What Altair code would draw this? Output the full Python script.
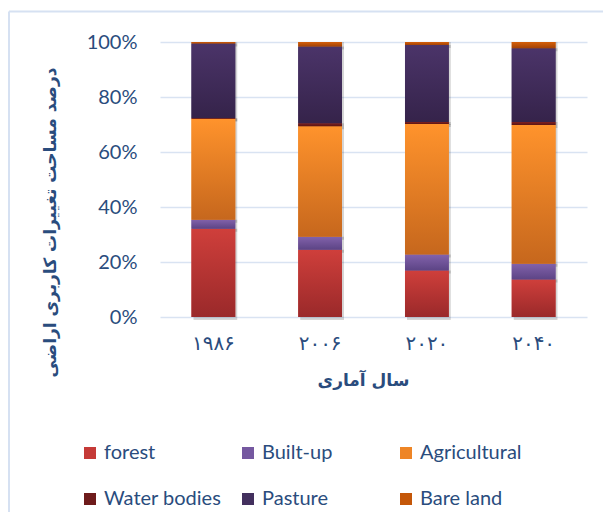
import altair as alt
import pandas as pd

years = ["۱۹۸۶", "۲۰۰۶", "۲۰۲۰", "۲۰۴۰"]
categories = ["forest", "Built-up", "Agricultural", "Water bodies", "Pasture", "Bare land"]
forest = [32.1, 24.5, 16.9, 13.6]
built_up = [3.3, 4.7, 5.8, 5.8]
agricultural = [36.7, 40.2, 47.5, 50.4]
water_bodies = [0.3, 1.1, 0.7, 1.1]
pasture = [27.1, 27.9, 28.0, 26.8]
bare_land = [0.5, 1.6, 1.1, 2.3]
y_ticks = [0, 0.2, 0.4, 0.6, 0.8, 1.0]

series = [forest, built_up, agricultural, water_bodies, pasture, bare_land]
top_colors = ["#CF3F3B", "#8262AB", "#FF932C", "#801F1F", "#4B3469", "#D5600A"]
bottom_colors = ["#9A292A", "#5C4485", "#C6671D", "#5A1515", "#35234A", "#A24206"]
flat_colors = ["#C53A37", "#7558A0", "#EE8526", "#6E1B1B", "#43305E", "#C45709"]
TXT = "#2A4C7D"
GRID = "#D9E3F2"

rows = []
for ci, (cat, vals) in enumerate(zip(categories, series)):
    for yr, v in zip(years, vals):
        rows.append({"year": yr, "category": cat, "order": ci, "value": v})
df = pd.DataFrame(rows)

x_enc = alt.X(
    "year:N", sort=years,
    scale=alt.Scale(paddingInner=0.59, paddingOuter=0.295),
    axis=alt.Axis(
        title="سال آماری", labelAngle=0, labelFont="DejaVu Sans", labelFontSize=20,
        labelColor=TXT, labelPadding=16, domain=False, ticks=False, tickSize=0, grid=False,
        titleFont="DejaVu Sans", titleFontSize=17, titleFontWeight="bold", titleColor=TXT,
        titleX=203, titleY=63, titleAlign="center", titleBaseline="middle",
    ),
)
y_enc = alt.Y(
    "y0:Q",
    scale=alt.Scale(domain=[0, 1], nice=False),
    axis=alt.Axis(
        format=".0%", values=y_ticks, title="درصد مساحت تغییرات کاربری اراضی",
        grid=True, gridColor=GRID, gridWidth=1.5, domain=False, ticks=False, tickSize=0,
        labelPadding=23, labelFont="Lato", labelFontSize=20, labelColor=TXT,
        titleFont="DejaVu Sans", titleFontSize=17, titleFontWeight="bold", titleColor=TXT,
        titleX=-110, titleY=180, titleAlign="center", titleBaseline="middle", titleAngle=270,
    ),
)
y2_enc = alt.Y2("y1:Q")

base = alt.Chart(df).transform_stack(
    stack="value", groupby=["year"], as_=["y0", "y1"],
    sort=[alt.SortField("order", order="ascending")], offset="normalize",
)

shadow = base.mark_bar(color="#000000", opacity=0.16, xOffset=2, yOffset=3).encode(
    x=x_enc, y=y_enc, y2=y2_enc
)

flat = base.mark_bar().encode(
    x=x_enc, y=y_enc, y2=y2_enc,
    color=alt.Color(
        "category:N",
        scale=alt.Scale(domain=categories, range=flat_colors),
        legend=alt.Legend(
            title=None, orient="none", legendX=-80, legendY=401, direction="horizontal",
            columns=3, gridAlign="all", symbolType="square", symbolSize=144,
            symbolStrokeWidth=0, labelFont="Lato", labelFontSize=20, labelColor=TXT,
            labelOffset=4, columnPadding=16, rowPadding=26, padding=0,
        ),
    ),
)

grads = []
for cat, tc, bc in zip(categories, top_colors, bottom_colors):
    g = alt.LinearGradient(
        gradient="linear", x1=0, x2=0, y1=0, y2=1,
        stops=[alt.GradientStop(color=tc, offset=0), alt.GradientStop(color=bc, offset=1)],
    )
    grads.append(
        base.transform_filter(alt.datum.category == cat)
        .mark_bar(fill=g)
        .encode(x=x_enc, y=y_enc, y2=y2_enc)
    )

border_data = pd.DataFrame({"k": [0]})
top_rule = alt.Chart(border_data).mark_rule(color="#D6E1F2", strokeWidth=2).encode(
    x=alt.value(-151), x2=alt.value(470), y=alt.value(-30.5)
)
left_rule = alt.Chart(border_data).mark_rule(color="#D6E1F2", strokeWidth=2).encode(
    x=alt.value(-151), y=alt.value(-30.5), y2=alt.value(480)
)

chart = alt.layer(shadow, flat, *grads, top_rule, left_rule).properties(
    width=427, height=275,
    autosize=alt.AutoSizeParams(type="none"),
    padding={"left": 152, "top": 34, "right": 16, "bottom": 195},
    background="white",
).configure_view(strokeWidth=0)

chart.save("out.html", embed_options={"renderer": "svg", "actions": False})
